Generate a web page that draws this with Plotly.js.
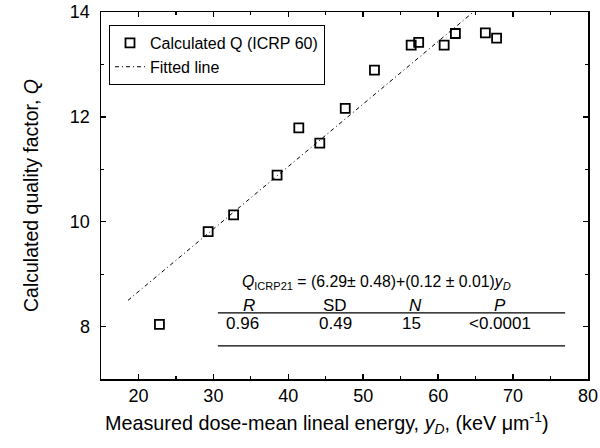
<!DOCTYPE html>
<html>
<head>
<meta charset="utf-8">
<script src="https://cdn.plot.ly/plotly-3.0.1.min.js"></script>
<style>html,body{margin:0;padding:0;background:#fff;}#chart{width:600px;height:448px;}</style>
</head>
<body>
<div id="chart"></div>
<script>
// Calculated Q (ICRP 60) vs measured dose-mean lineal energy
var yD = [22.8, 29.3, 32.7, 38.5, 41.4, 44.2, 47.6, 51.5, 56.4, 57.4, 60.8, 62.3, 66.3, 67.8];
var Qcalc = [8.04, 9.81, 10.13, 10.89, 11.79, 11.50, 12.16, 12.89, 13.37, 13.42, 13.37, 13.59, 13.60, 13.50];
// Fitted line endpoints as drawn
var fitX = [18.6, 64.7];
var fitY = [8.5, 14.0];
var xTicks = [20, 30, 40, 50, 60, 70, 80];
var yTicks = [8, 10, 12, 14];
// Statistics table
var statHeads = ['<i>R</i>', 'SD', '<i>N</i>', '<i>P</i>'];
var statVals = ['0.96', '0.49', '15', '&lt;0.0001'];

var font = 'Liberation Sans, Arial, sans-serif';

var traces = [
  {
    x: yD, y: Qcalc, type: 'scatter', mode: 'markers', name: 'Calculated Q (ICRP 60)',
    marker: {symbol: 'square-open', size: 9, color: '#000', line: {width: 1.8, color: '#000'}},
    cliponaxis: false
  },
  {
    x: fitX, y: fitY, type: 'scatter', mode: 'lines', name: 'Fitted line',
    line: {color: '#000', width: 1, dash: '4px,3px,1px,3px'}
  }
];

var axisCommon = {
  showline: true, linecolor: '#000', linewidth: 1.5, mirror: 'ticks',
  ticks: 'inside', ticklen: 5, tickwidth: 1.5, tickcolor: '#000',
  showgrid: false, zeroline: false, ticklabeloverflow: 'allow',
  tickfont: {family: font, size: 18, color: '#000'}
};

var headX = [0.304, 0.481, 0.645, 0.82];
var valX = [0.29, 0.481, 0.637, 0.82];
var ann = [
  {xref: 'paper', yref: 'paper', x: 0.846, y: 0.262, xanchor: 'right', yanchor: 'middle', showarrow: false,
   text: '<i>Q</i><sub>ICRP21</sub> = (6.29\u00b1 0.48)+(0.12 \u00b1 0.01)<i>y</i><sub><i>D</i></sub>',
   font: {family: font, size: 15.8, color: '#000'}},
  {xref: 'paper', yref: 'paper', x: 0.464, y: -0.12, xanchor: 'center', yanchor: 'middle', showarrow: false,
   text: 'Measured dose-mean lineal energy, <i>y</i><sub><i>D</i></sub>, (keV \u03bcm<sup>-1</sup>)',
   font: {family: font, size: 19.8, color: '#000'}}
];
statHeads.forEach(function (t, i) {
  ann.push({xref: 'paper', yref: 'paper', x: headX[i], y: 0.201, xanchor: 'center', yanchor: 'middle',
            showarrow: false, text: t, font: {family: font, size: 17, color: '#000'}});
});
statVals.forEach(function (t, i) {
  ann.push({xref: 'paper', yref: 'paper', x: valX[i], y: 0.152, xanchor: 'center', yanchor: 'middle',
            showarrow: false, text: t, font: {family: font, size: 17, color: '#000'}});
});

var layout = {
  width: 600, height: 448,
  margin: {l: 101, r: 12, t: 12, b: 69},
  paper_bgcolor: '#fff', plot_bgcolor: '#fff',
  font: {family: font, color: '#000'},
  showlegend: true,
  legend: {
    x: 0.016, y: 0.965, xanchor: 'left', yanchor: 'top',
    bgcolor: '#fff', bordercolor: '#000', borderwidth: 1.2,
    font: {family: font, size: 16, color: '#000'},
    itemwidth: 30, tracegroupgap: 0
  },
  xaxis: Object.assign({}, axisCommon, {
    range: [15, 80], tickvals: xTicks, ticktext: xTicks.map(String),
    minor: {ticks: 'inside', ticklen: 3, tickwidth: 1.2, tickcolor: '#000', dtick: 5, tick0: 15}
  }),
  yaxis: Object.assign({}, axisCommon, {
    range: [7, 14], tickvals: yTicks, ticktext: yTicks.map(String),
    ticklabelstandoff: 6,
    minor: {ticks: 'inside', ticklen: 3, tickwidth: 1.2, tickcolor: '#000', dtick: 1, tick0: 7},
    title: {text: 'Calculated quality factor, <i>Q</i>',
            font: {family: font, size: 19.5, color: '#000'}, standoff: 26}
  }),
  shapes: [
    {type: 'line', xref: 'paper', yref: 'paper', x0: 0.24, x1: 0.953, y0: 0.18, y1: 0.18, line: {color: '#000', width: 1.2}},
    {type: 'line', xref: 'paper', yref: 'paper', x0: 0.24, x1: 0.953, y0: 0.09, y1: 0.09, line: {color: '#000', width: 1.2}}
  ],
  annotations: ann
};

Plotly.newPlot('chart', traces, layout, {displayModeBar: false, staticPlot: true});
</script>
</body>
</html>
